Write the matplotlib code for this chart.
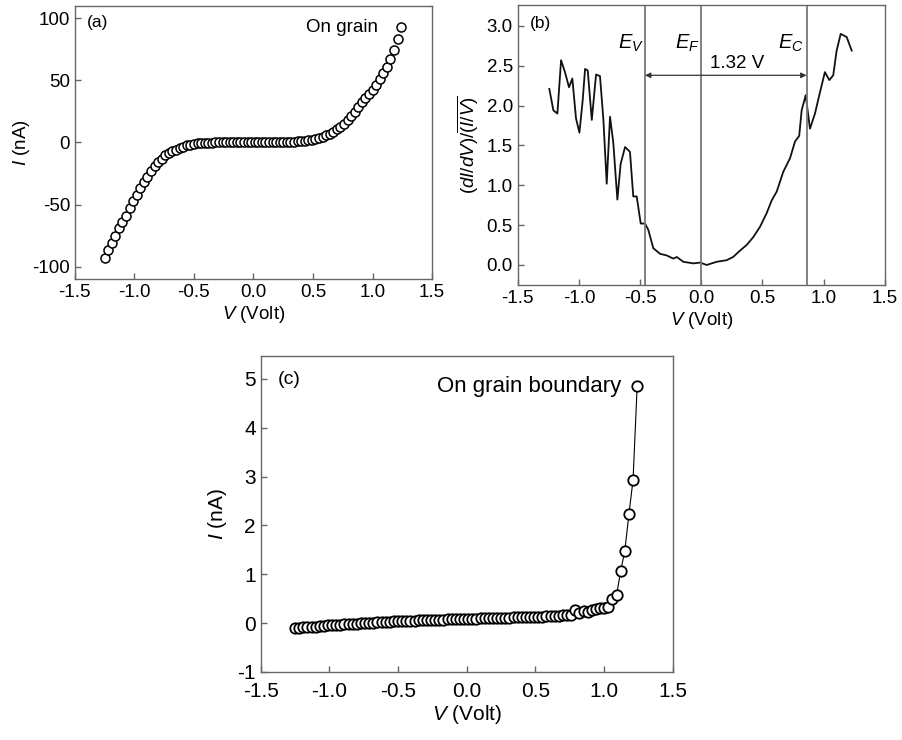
import matplotlib
matplotlib.use("Agg")
import matplotlib.pyplot as plt
from matplotlib.ticker import FormatStrFormatter

plt.rcParams["font.family"] = ["Liberation Sans", "DejaVu Sans"]
plt.rcParams["mathtext.fontset"] = "custom"
plt.rcParams["mathtext.rm"] = "Liberation Sans"
plt.rcParams["mathtext.it"] = "Liberation Sans:italic"
plt.rcParams["axes.unicode_minus"] = False

# bias sweep (V), shared by panels (a) and (c)
volts = [
    -1.25, -1.22, -1.19, -1.16, -1.13, -1.10, -1.07, -1.04, -1.01, -0.98,
    -0.95, -0.92, -0.89, -0.86, -0.83, -0.80, -0.77, -0.74, -0.71, -0.68,
    -0.65, -0.62, -0.59, -0.56, -0.53, -0.50, -0.47, -0.44, -0.41, -0.38,
    -0.35, -0.32, -0.29, -0.26, -0.23, -0.20, -0.17, -0.14, -0.11, -0.08,
    -0.05, -0.02, 0.01, 0.04, 0.07, 0.10, 0.13, 0.16, 0.19, 0.22,
    0.25, 0.28, 0.31, 0.34, 0.37, 0.40, 0.43, 0.46, 0.49, 0.52,
    0.55, 0.58, 0.61, 0.64, 0.67, 0.70, 0.73, 0.76, 0.79, 0.82,
    0.85, 0.88, 0.91, 0.94, 0.97, 1.00, 1.03, 1.06, 1.09, 1.12,
    1.15, 1.18, 1.21, 1.24,
]

# (a) on grain, current in nA
i_grain = [
    -93, -87, -81, -75, -69, -64, -59, -53, -47, -42,
    -37, -32, -28, -23, -19, -15.5, -13, -10.5, -8.5, -7,
    -5.8, -4.5, -3.3, -2.4, -1.7, -1.2, -0.8, -0.5, -0.3, -0.2,
    -0.1, 0, 0, 0, 0, 0, 0, 0, 0, 0,
    0, 0, 0, 0, 0, 0, 0, 0.1, 0.1, 0.2,
    0.3, 0.4, 0.5, 0.6, 0.8, 1.0, 1.3, 1.7, 2.2, 2.9,
    3.6, 4.6, 5.8, 7.2, 8.8, 10.6, 12.6, 15, 17.8, 21,
    24.5, 28.5, 32.5, 35.5, 39, 42, 46.5, 51, 56, 61,
    67.5, 74.5, 83, 93,
]

# (c) on grain boundary, current in nA
i_boundary = [
    -0.10, -0.10, -0.09, -0.08, -0.07, -0.07, -0.06, -0.05, -0.04, -0.04,
    -0.03, -0.03, -0.02, -0.02, -0.01, -0.01, 0.00, 0.00, 0.01, 0.01,
    0.02, 0.02, 0.03, 0.03, 0.04, 0.04, 0.04, 0.05, 0.05, 0.05,
    0.06, 0.06, 0.06, 0.07, 0.07, 0.07, 0.07, 0.08, 0.08, 0.08,
    0.08, 0.09, 0.09, 0.09, 0.09, 0.10, 0.10, 0.10, 0.10, 0.11,
    0.11, 0.11, 0.11, 0.12, 0.12, 0.12, 0.12, 0.13, 0.13, 0.13,
    0.13, 0.14, 0.14, 0.15, 0.15, 0.16, 0.16, 0.17, 0.26, 0.20,
    0.25, 0.22, 0.26, 0.28, 0.30, 0.31, 0.33, 0.50, 0.57, 1.07,
    1.48, 2.23, 2.93, 4.85,
]

# (b) normalized conductance trace
v_cond = [
    -1.242, -1.209, -1.176, -1.146, -1.114, -1.081, -1.054, -1.024, -0.996, -0.969,
    -0.950, -0.928, -0.895, -0.860, -0.828, -0.800, -0.773, -0.746, -0.719, -0.686,
    -0.659, -0.623, -0.583, -0.556, -0.528, -0.495, -0.460, -0.433, -0.392, -0.337,
    -0.283, -0.229, -0.200, -0.147, -0.065, -0.010, 0.044, 0.126, 0.207, 0.260,
    0.316, 0.370, 0.425, 0.480, 0.534, 0.575, 0.616, 0.670, 0.725, 0.766,
    0.800, 0.820, 0.853, 0.888, 0.929, 0.964, 1.010, 1.046, 1.078, 1.106,
    1.139, 1.188, 1.229,
]
cond = [
    2.21, 1.94, 1.90, 2.57, 2.42, 2.23, 2.34, 1.84, 1.66, 2.07,
    2.46, 2.44, 1.82, 2.39, 2.37, 1.82, 1.02, 1.86, 1.53, 0.82,
    1.27, 1.48, 1.42, 0.86, 0.86, 0.52, 0.52, 0.44, 0.21, 0.14,
    0.12, 0.08, 0.10, 0.04, 0.02, 0.03, 0.00, 0.04, 0.06, 0.10,
    0.18, 0.25, 0.35, 0.48, 0.65, 0.81, 0.92, 1.17, 1.34, 1.55,
    1.62, 1.94, 2.13, 1.71, 1.90, 2.13, 2.42, 2.32, 2.38, 2.69,
    2.90, 2.86, 2.69,
]

e_v, e_f, e_c = -0.46, 0.0, 0.86

fs = 13.5
fs_c = 15
spine_col = "#666666"


def style(ax, size):
    for s in ax.spines.values():
        s.set_color(spine_col)
        s.set_linewidth(1.0)
    ax.tick_params(direction="in", length=4, width=1, color=spine_col, labelsize=size)
    ax.set_xlim(-1.5, 1.5)
    ax.set_xticks([-1.5, -1.0, -0.5, 0.0, 0.5, 1.0, 1.5])
    ax.xaxis.set_major_formatter(FormatStrFormatter("%.1f"))
    ax.set_xlabel(r"$V$ (Volt)", fontsize=size, labelpad=2)


fig = plt.figure(figsize=(9.02, 7.40), dpi=100)

# (a)
ax_a = fig.add_axes([0.083, 0.623, 0.396, 0.369])
style(ax_a, fs)
ax_a.plot(volts, i_grain, "o", ms=6.5, mfc="white", mec="black", mew=1.1)
ax_a.set_ylim(-110, 110)
ax_a.set_yticks([-100, -50, 0, 50, 100])
ax_a.set_ylabel(r"$I$ (nA)", fontsize=fs, labelpad=0)
ax_a.text(0.034, 0.94, "(a)", transform=ax_a.transAxes, fontsize=fs - 1, va="center")
ax_a.text(0.85, 0.92, "On grain", transform=ax_a.transAxes, fontsize=fs, ha="right", va="center")

# (b)
ax_b = fig.add_axes([0.574, 0.615, 0.407, 0.378])
style(ax_b, fs)
ax_b.plot(v_cond, cond, "-", color="#111111", lw=1.3)
for xv in (e_v, e_f, e_c):
    ax_b.axvline(xv, color="#777777", lw=1.3)
ax_b.set_ylim(-0.25, 3.26)
ax_b.set_yticks([0.0, 0.5, 1.0, 1.5, 2.0, 2.5, 3.0])
ax_b.yaxis.set_major_formatter(FormatStrFormatter("%.1f"))
ax_b.set_ylabel(r"$(dI/dV)/\overline{(I/V)}$", fontsize=fs, labelpad=4)
ax_b.annotate("", xy=(e_v, 2.38), xytext=(e_c, 2.38),
              arrowprops=dict(arrowstyle="<|-|>", color="#333333", lw=0.9,
                              mutation_scale=8, shrinkA=0, shrinkB=0))
ax_b.text(0.29, 2.53, "1.32 V", fontsize=fs, ha="center", va="center")
ax_b.text(e_v - 0.01, 2.78, r"$E_V$", fontsize=fs + 1, ha="right", va="center")
ax_b.text(e_f - 0.01, 2.78, r"$E_F$", fontsize=fs + 1, ha="right", va="center")
ax_b.text(e_c - 0.02, 2.78, r"$E_C$", fontsize=fs + 1, ha="right", va="center")
ax_b.text(0.034, 0.936, "(b)", transform=ax_b.transAxes, fontsize=fs - 1, va="center")

# (c)
ax_c = fig.add_axes([0.289, 0.092, 0.457, 0.427])
style(ax_c, fs_c)
ax_c.plot(volts, i_boundary, "-o", color="black", lw=0.8,
          ms=7.5, mfc="white", mec="black", mew=1.3)
ax_c.set_ylim(-1, 5.47)
ax_c.set_yticks([-1, 0, 1, 2, 3, 4, 5])
ax_c.tick_params(axis="x", pad=7)
ax_c.set_ylabel(r"$I$ (nA)", fontsize=fs_c, labelpad=6)
ax_c.text(0.042, 0.927, "(c)", transform=ax_c.transAxes, fontsize=fs_c - 1, va="center")
ax_c.text(0.875, 0.903, "On grain boundary", transform=ax_c.transAxes,
          fontsize=fs_c + 1, ha="right", va="center")

fig.savefig("out.png", dpi=100)
